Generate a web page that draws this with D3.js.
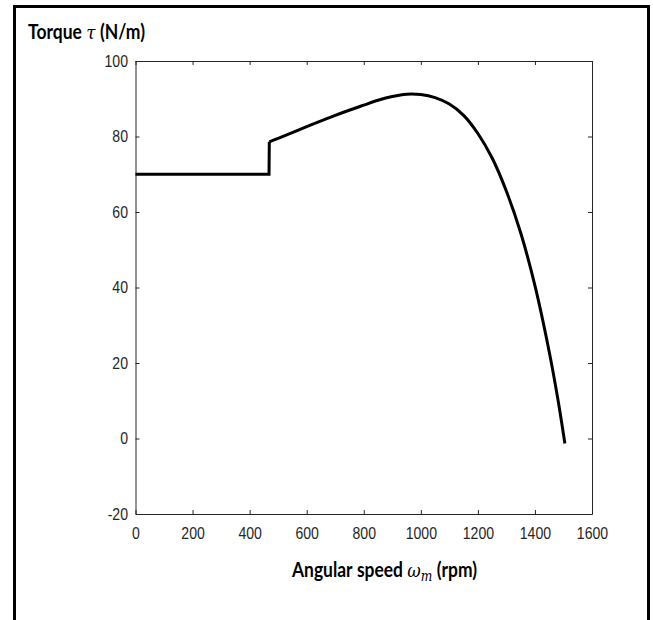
<!DOCTYPE html>
<html>
<head>
<meta charset="utf-8">
<script src="https://cdn.jsdelivr.net/npm/d3@7"></script>
<style>
  body { margin: 0; background: #fff; }
  .tick text { font-family: "Liberation Sans", Arial, sans-serif; }
</style>
</head>
<body>
<svg id="chart" width="653" height="620"></svg>
<script>
// torque-speed curve
const flatSpeed = [0, 468, 469];
const flatTorque = [70, 70, 78.6];
const speed = [469, 500, 600, 700, 800, 850, 900, 950, 1000, 1050, 1100, 1150, 1200, 1250, 1300, 1350, 1400, 1450, 1480, 1505];
const torque = [78.6, 79.5, 82.6, 85.6, 88.3, 89.6, 90.6, 91.2, 91.1, 90.3, 88.6, 85.6, 80.8, 74.3, 65.5, 54.5, 40.5, 23.0, 10.6, -1.3];
const xTicks = [0, 200, 400, 600, 800, 1000, 1200, 1400, 1600];
const yTicks = [-20, 0, 20, 40, 60, 80, 100];

const svg = d3.select('#chart');
const plotL = 135.5, plotR = 592, plotT = 61, plotB = 514;
const squeeze = 0.88;

// outer frame (bottom edge runs off the picture)
svg.append('path')
  .attr('d', `M14.5,625 V6.5 H648.5 V625`)
  .attr('fill', 'none')
  .attr('stroke', '#000')
  .attr('stroke-width', 3);

const x = d3.scaleLinear().domain([0, 1600]).range([plotL, plotR]);
const y = d3.scaleLinear().domain([-20, 100]).range([plotB, plotT]);

const axisColor = '#262626';
const fmt = d => String(d);

function styleAxis(g) {
  g.select('.domain').attr('stroke', axisColor);
  g.selectAll('.tick line').attr('stroke', axisColor);
  g.selectAll('.tick text')
    .attr('fill', axisColor)
    .attr('font-size', 16)
    .attr('transform', `scale(${squeeze},1)`);
}

svg.append('g')
  .attr('transform', `translate(0,${plotB})`)
  .call(d3.axisBottom(x).tickValues(xTicks).tickSizeInner(-4).tickSizeOuter(0).tickPadding(14).tickFormat(fmt))
  .call(styleAxis);

svg.append('g')
  .attr('transform', `translate(${plotL},0)`)
  .call(d3.axisLeft(y).tickValues(yTicks).tickSizeInner(-4).tickSizeOuter(0).tickFormat(fmt))
  .call(styleAxis)
  .call(g => g.selectAll('.tick text').attr('x', -7.5 / squeeze));

svg.append('g')
  .attr('transform', `translate(0,${plotT})`)
  .call(d3.axisTop(x).tickValues(xTicks).tickSizeInner(-4).tickSizeOuter(0).tickFormat(''))
  .call(styleAxis);

svg.append('g')
  .attr('transform', `translate(${plotR},0)`)
  .call(d3.axisRight(y).tickValues(yTicks).tickSizeInner(-4).tickSizeOuter(0).tickFormat(''))
  .call(styleAxis);

const line = d3.line()
  .x(d => x(d[0]))
  .y(d => y(d[1]));

svg.append('path')
  .datum(flatSpeed.map((s, i) => [s, flatTorque[i]]))
  .attr('d', line)
  .attr('fill', 'none')
  .attr('stroke', '#000')
  .attr('stroke-width', 3)
  .attr('stroke-linejoin', 'miter');

svg.append('path')
  .datum(speed.map((s, i) => [s, torque[i]]))
  .attr('d', line.curve(d3.curveCatmullRom.alpha(0.5)))
  .attr('fill', 'none')
  .attr('stroke', '#000')
  .attr('stroke-width', 3)
  .attr('stroke-linejoin', 'round');

// bold label made of pieces, squeezed to the width seen in the figure
function label(x0, y0, width, pieces) {
  const g = svg.append('g');
  let cx = 0;
  pieces.forEach(p => {
    const t = g.append('text')
      .attr('x', cx)
      .attr('y', p.dy || 0)
      .attr('font-family', p.math ? '"DejaVu Serif", serif' : 'Lato, "Open Sans", sans-serif')
      .attr('font-weight', p.math ? 'normal' : 'bold')
      .attr('font-style', p.math ? 'italic' : 'normal')
      .attr('font-size', p.size || 20)
      .attr('fill', '#000')
      .text(p.t);
    cx += t.node().getComputedTextLength() + (p.gap || 0);
  });
  g.attr('transform', `translate(${x0},${y0}) scale(${width / cx},1)`);
}

label(28, 39, 117, [
  { t: 'Torque', gap: 5 },
  { t: 'τ', math: true, size: 19, gap: 5 },
  { t: '(N/m)' }
]);

label(292, 577, 185, [
  { t: 'Angular', gap: 5 },
  { t: 'speed', gap: 5 },
  { t: 'ω', math: true, size: 19 },
  { t: 'm', math: true, size: 14, dy: 4, gap: 5 },
  { t: '(rpm)' }
]);
</script>
</body>
</html>
